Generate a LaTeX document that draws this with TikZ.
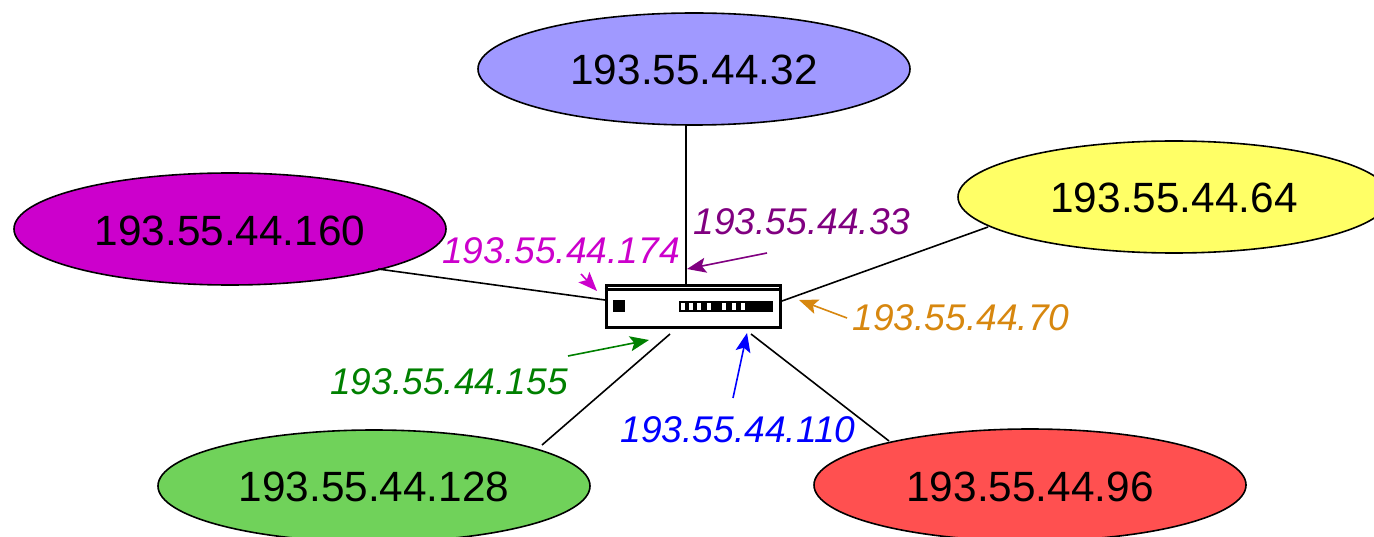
\documentclass[tikz,border=0pt]{standalone}
\usepackage{fontspec}
\setmainfont{Liberation Sans}
\usepackage{tikz}
\usetikzlibrary{shapes.geometric, arrows.meta}

\tikzset{
	subnet/.style = {draw, ellipse, minimum width = 432bp, minimum height = 112bp, inner sep = 0pt},
	subnetlabel/.style = {inner sep = 0pt, font = \fontsize{42.5}{42.5}\selectfont},
	addr/.style = {inner sep = 0pt, font = \fontsize{37.3}{37.3}\selectfont\itshape},
	slit/.style = {fill = white, minimum width = 4bp, minimum height = 7bp, inner sep = 0pt},
}
\definecolor{netblue}{RGB}{160, 153, 255}
\definecolor{netyellow}{RGB}{255, 255, 102}
\definecolor{netmagenta}{RGB}{204, 0, 204}
\definecolor{netgreen}{RGB}{112, 210, 90}
\definecolor{netred}{RGB}{255, 80, 80}
\definecolor{addrpurple}{RGB}{128, 0, 128}
\definecolor{addrorange}{RGB}{215, 135, 15}
\definecolor{addrgreen}{RGB}{0, 128, 0}

\begin{document}
\begin{tikzpicture}[>={Stealth[length = 19bp, width = 15bp, inset = 4bp]}, x = 1bp, y = -1bp, line width = 1.6bp]
	\useasboundingbox (0, 0) rectangle (1374, 537);
	\clip (0, 0) rectangle (1374, 537);
	% subnets
	\node[subnet, fill = netblue] (top) at (694, 69) {};
	\node[subnet, fill = netyellow] (right) at (1174, 197) {};
	\node[subnet, fill = netmagenta] (left) at (230, 229) {};
	\node[subnet, fill = netgreen] (low) at (374, 486) {};
	\node[subnet, fill = netred] (lowr) at (1030, 485) {};
	\node[subnetlabel] (toplabel) at (694, 70) {193.55.44.32};
	\node[subnetlabel] (rightlabel) at (1174, 198) {193.55.44.64};
	\node[subnetlabel] (leftlabel) at (230, 231) {193.55.44.160};
	\node[subnetlabel] (lowlabel) at (374, 487) {193.55.44.128};
	\node[subnetlabel] (lowrlabel) at (1030, 487) {193.55.44.96};
	% router
	\node[draw, line width = 3bp, fill = white, minimum width = 174bp, minimum height = 42bp, inner sep = 0pt] (router) at (693, 306) {};
	\coordinate (topa) at (686, 125);
	\coordinate (righta) at (988, 227);
	\coordinate (rightb) at (782, 301);
	\coordinate (lefta) at (378, 269);
	\coordinate (leftb) at (605, 300);
	\coordinate (lowa) at (542, 445);
	\coordinate (lowb) at (670, 334);
	\coordinate (lowra) at (889, 441);
	\coordinate (lowrb) at (751, 334);
	\draw (topa) -- (topa |- router.north);
	\draw (righta) -- (rightb);
	\draw (lefta) -- (leftb);
	\draw (lowa) -- (lowb);
	\draw (lowra) -- (lowrb);
	\draw[line width = 3bp] ([yshift = -6bp]router.north west) -- ([yshift = -6bp]router.north east);
	\node[fill = black, minimum width = 12bp, minimum height = 12bp, inner sep = 0pt] (led) at (619, 306) {};
	\node[fill = black, minimum width = 94bp, minimum height = 11bp, inner sep = 0pt] (ports) at (726, 306.5) {};
	\foreach \x in {683, 691, 699, 709, 724, 734, 743}
		\node[slit] at (\x, 306.5) {};
	% addresses
	\node[addr, text = addrpurple] (a33) at (802, 222) {193.55.44.33};
	\node[addr, text = netmagenta] (a174) at (561, 251) {193.55.44.174};
	\node[addr, text = addrorange] (a70) at (961, 318) {193.55.44.70};
	\node[addr, text = addrgreen] (a155) at (449, 382) {193.55.44.155};
	\node[addr, text = blue] (a110) at (738, 430) {193.55.44.110};
	\coordinate (t33) at (687, 269);
	\coordinate (f33) at (767, 253);
	\coordinate (t174) at (597, 291);
	\coordinate (f174) at (581, 274);
	\coordinate (t70) at (799, 300);
	\coordinate (f70) at (847, 318);
	\coordinate (t155) at (649, 340);
	\coordinate (f155) at (568, 356);
	\coordinate (t110) at (747, 333);
	\coordinate (f110) at (733, 398);
	\draw[->, addrpurple] (f33) -- (t33);
	\draw[->, netmagenta] (f174) -- (t174);
	\draw[->, addrorange] (f70) -- (t70);
	\draw[->, addrgreen] (f155) -- (t155);
	\draw[->, blue] (f110) -- (t110);
\end{tikzpicture}
\end{document}
